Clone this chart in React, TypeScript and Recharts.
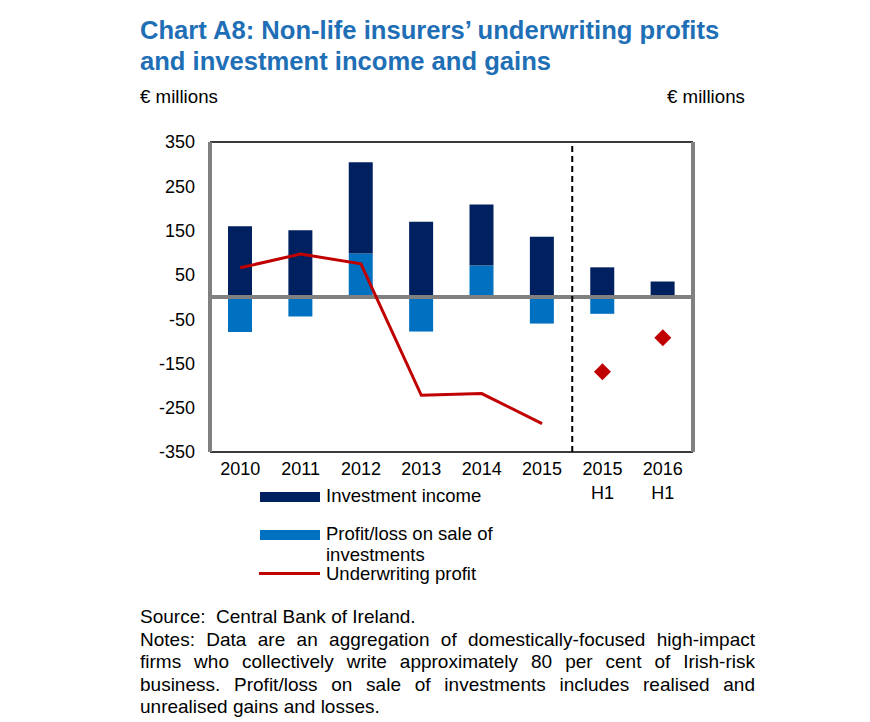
import React from "react"
import {
  ComposedChart,
  Bar,
  Line,
  XAxis,
  YAxis,
  CartesianGrid,
  ReferenceLine,
} from "recharts"

const periods = ["2010", "2011", "2012", "2013", "2014", "2015", "2015 H1", "2016 H1"]
const investmentIncome = [160, 151, 206, 170, 138, 136, 67, 35]
const saleProfitLoss = [-79, -44, 98, -78, 71, -60, -38, 0]
const underwritingProfit = [66, 97, 75, -222, -218, -286, null, null]
const underwritingH1 = [null, null, null, null, null, null, -169, -92]
const yTicks = [350, 250, 150, 50, -50, -150, -250, -350]

const data = periods.map((p, i) => ({
  period: p,
  income: investmentIncome[i],
  sale: saleProfitLoss[i],
  uw: underwritingProfit[i],
  uwH1: underwritingH1[i],
}))

const font = "'Liberation Sans', Arial, sans-serif"
const navy = "#002060"
const blue = "#0070C0"
const red = "#C00000"

const notes = [
  "Notes: Data are an aggregation of domestically-focused high-impact",
  "firms who collectively write approximately 80 per cent of Irish-risk",
  "business. Profit/loss on sale of investments includes realised and",
]

function PeriodTick(props: any) {
  const { x, y, payload } = props
  const parts = String(payload.value).split(" ")
  return (
    <text x={x} y={y} textAnchor="middle" fontSize={18} fill="#000" fontFamily={font}>
      {parts.map((t: string, i: number) => (
        <tspan key={i} x={x} dy={i === 0 ? 17 : 24}>
          {t}
        </tspan>
      ))}
    </text>
  )
}

function Diamond(props: any) {
  const { cx, cy, value } = props
  if (value == null || cx == null || cy == null) return null
  const r = 8.5
  return (
    <path
      d={`M${cx},${cy - r} L${cx + r},${cy} L${cx},${cy + r} L${cx - r},${cy} Z`}
      fill={red}
    />
  )
}

export default function App() {
  return (
    <div style={{ position: "absolute", left: 0, top: 0, width: 870, height: 722, fontFamily: font, background: "#fff" }}>
      <div style={{ position: "absolute", left: 140, top: 15, color: "#1F6FB6", fontWeight: "bold", fontSize: 25.6, lineHeight: "31px", whiteSpace: "nowrap" }}>
        Chart A8: Non-life insurers’ underwriting profits
        <br />
        and investment income and gains
      </div>
      <div style={{ position: "absolute", left: 140, top: 86, fontSize: 18.7 }}>€ millions</div>
      <div style={{ position: "absolute", left: 667, top: 86, fontSize: 18.7 }}>€ millions</div>

      <div style={{ position: "absolute", left: 0, top: 0 }}>
        <ComposedChart
          width={870}
          height={520}
          data={data}
          stackOffset="sign"
          margin={{ top: 142, right: 117, bottom: 18, left: 150 }}
        >
          <CartesianGrid vertical={false} stroke="#d9d9d9" />
          <XAxis
            dataKey="period"
            axisLine={false}
            tickLine={false}
            tickSize={0}
            tickMargin={6}
            height={50}
            interval={0}
            tick={<PeriodTick />}
          />
          <YAxis
            yAxisId="l"
            domain={[-350, 350]}
            ticks={yTicks}
            width={60}
            tickLine={false}
            tickSize={0}
            tickMargin={15}
            axisLine={{ stroke: "#808080", strokeWidth: 4 }}
            tick={{ fill: "#000", fontSize: 18, fontFamily: font }}
          />
          <YAxis
            yAxisId="r"
            orientation="right"
            domain={[-350, 350]}
            ticks={yTicks}
            width={60}
            tickLine={false}
            tickSize={0}
            tickMargin={16}
            axisLine={{ stroke: "#808080", strokeWidth: 4 }}
            tick={{ fill: "#000", fontSize: 18, fontFamily: font, textAnchor: "start" }}
          />
          <Bar yAxisId="l" dataKey="sale" stackId="a" fill={blue} barSize={24} isAnimationActive={false} />
          <Bar yAxisId="l" dataKey="income" stackId="a" fill={navy} barSize={24} isAnimationActive={false} />
          <ReferenceLine yAxisId="l" y={350} stroke="#000" strokeWidth={1.5} />
          <ReferenceLine yAxisId="l" y={-350} stroke="#000" strokeWidth={1.5} />
          <ReferenceLine yAxisId="l" y={0} stroke="#808080" strokeWidth={4} />
          <ReferenceLine yAxisId="l" x="2015 H1" position="start" stroke="#000" strokeWidth={2} strokeDasharray="6 4" />
          <Line
            yAxisId="l"
            dataKey="uw"
            stroke={red}
            strokeWidth={3}
            dot={false}
            connectNulls={false}
            isAnimationActive={false}
          />
          <Line
            yAxisId="l"
            dataKey="uwH1"
            stroke="none"
            dot={<Diamond />}
            activeDot={false}
            isAnimationActive={false}
          />
        </ComposedChart>
      </div>

      <div style={{ position: "absolute", left: 260, top: 492, width: 60, height: 10, background: navy }} />
      <div style={{ position: "absolute", left: 326, top: 485, fontSize: 18.5 }}>Investment income</div>
      <div style={{ position: "absolute", left: 260, top: 530, width: 60, height: 10, background: blue }} />
      <div style={{ position: "absolute", left: 326, top: 523, fontSize: 18.5, lineHeight: "21px" }}>
        Profit/loss on sale of
        <br />
        investments
      </div>
      <div style={{ position: "absolute", left: 259, top: 572, width: 61, height: 3, background: red }} />
      <div style={{ position: "absolute", left: 326, top: 566, fontSize: 18.5, lineHeight: "15px" }}>Underwriting profit</div>

      <div
        style={{
          position: "absolute",
          left: 140,
          top: 606,
          width: 615,
          fontSize: 19,
          lineHeight: "22.5px",
          color: "#000",
        }}
      >
        <div>Source:&nbsp; Central Bank of Ireland.</div>
        {notes.map((l, i) => (
          <div key={i} style={{ textAlign: "justify", textAlignLast: "justify", whiteSpace: "nowrap" }}>
            {l}
          </div>
        ))}
        <div>unrealised gains and losses.</div>
      </div>
    </div>
  )
}
